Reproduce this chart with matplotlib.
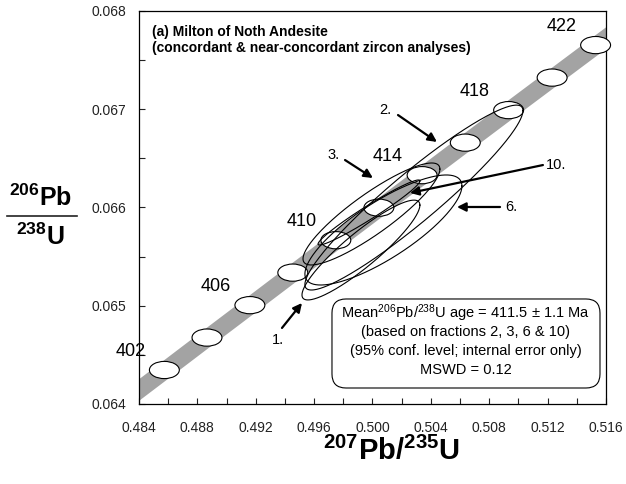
import numpy as np
import matplotlib.pyplot as plt
from matplotlib.patches import Ellipse, FancyBboxPatch
from matplotlib.lines import Line2D
from matplotlib.ticker import MultipleLocator, FormatStrFormatter

plt.rcParams['font.family'] = ['Liberation Sans', 'DejaVu Sans']
plt.rcParams['mathtext.fontset'] = 'custom'
plt.rcParams['mathtext.rm'] = 'Liberation Sans'
plt.rcParams['mathtext.it'] = 'Liberation Sans:italic'
plt.rcParams['mathtext.bf'] = 'Liberation Sans:bold'

# concordia points (Ma) with 207Pb/235U and 206Pb/238U
ages = [400, 402, 404, 406, 408, 410, 412, 414, 416, 418, 420, 422, 424]
conc_x = [0.48281, 0.48574, 0.48866, 0.49160, 0.49454, 0.49749, 0.50044,
          0.50340, 0.50636, 0.50933, 0.51231, 0.51529, 0.51828]
conc_y = [0.064016, 0.064346, 0.064676, 0.065006, 0.065337, 0.065667, 0.065998,
          0.066329, 0.066660, 0.066991, 0.067322, 0.067653, 0.067984]
band_half = 0.00011
label_ages = [402, 406, 410, 414, 418, 422]

# zircon fractions: centre, half-extent in x / y, error correlation
frac_names = ['1.', '2.', '3.', '6.', '10.']
frac_x = [0.49921, 0.50284, 0.49993, 0.50075, 0.49976]
frac_y = [0.065567, 0.066101, 0.065934, 0.065771, 0.065949]
frac_ex = [0.00404, 0.00747, 0.00469, 0.00538, 0.00349]
frac_ey = [0.000508, 0.000941, 0.000519, 0.000560, 0.000331]
frac_rho = [0.90, 0.94, 0.88, 0.80, 0.97]

# arrow labels: label position, arrow tail, arrow tip
lab_x = [0.49352, 0.50086, 0.49736, 0.50949, 0.51257]
lab_y = [0.064651, 0.066992, 0.066534, 0.066005, 0.066432]
tail_x = [0.49380, 0.50175, 0.49812, 0.50874, 0.51168]
tail_y = [0.064774, 0.066941, 0.066483, 0.066005, 0.066432]
tip_x = [0.49517, 0.50442, 0.50003, 0.50579, 0.50257]
tip_y = [0.065028, 0.066667, 0.066300, 0.066005, 0.066148]

box_lines = [r'Mean$^{206}$Pb/$^{238}$U age = 411.5 ± 1.1 Ma',
             '(based on fractions 2, 3, 6 & 10)',
             '(95% conf. level; internal error only)',
             'MSWD = 0.12']

fig = plt.figure(figsize=(6.26, 4.84), dpi=100)
ax = fig.add_axes([0.2220, 0.1653, 0.7460, 0.8120])

# concordia band
cx = np.array(conc_x)
cy = np.array(conc_y)
ax.fill_between(cx, cy - band_half, cy + band_half, color='#a3a3a3', lw=0, zorder=1)

# age markers
for a, x, y in zip(ages, conc_x, conc_y):
    if a < 402 or a > 422:
        continue
    ax.add_patch(Ellipse((x, y), 0.00205, 0.000175, fc='white', ec='black',
                         lw=0.8, zorder=3, clip_on=False))
    if a in label_ages:
        ax.annotate(str(a), (x, y), xytext=(-24.5, 13.5), textcoords='offset points',
                    ha='center', va='center', fontsize=13, zorder=5)

# error ellipses
t = np.linspace(0, 2 * np.pi, 300)
for x0, y0, ex, ey, r in zip(frac_x, frac_y, frac_ex, frac_ey, frac_rho):
    ex_ = x0 + ex * np.cos(t)
    ey_ = y0 + ey * (r * np.cos(t) + np.sqrt(1 - r ** 2) * np.sin(t))
    ax.plot(ex_, ey_, color='black', lw=0.8, zorder=4)

# arrows and fraction labels
for n, lx, ly, tx, ty, px, py in zip(frac_names, lab_x, lab_y, tail_x, tail_y, tip_x, tip_y):
    ax.text(lx, ly, n, ha='center', va='center', fontsize=10.5, zorder=6)
    ax.annotate('', xy=(px, py), xytext=(tx, ty),
                arrowprops=dict(arrowstyle='-|>', color='black', lw=1.6,
                                mutation_scale=13, shrinkA=0, shrinkB=0), zorder=6)

# title
ax.text(0.027, 0.965, '(a) Milton of Noth Andesite\n(concordant & near-concordant zircon analyses)',
        transform=ax.transAxes, ha='left', va='top', fontsize=10, fontweight='bold',
        linespacing=1.2)

# result box
ax.add_patch(FancyBboxPatch((0.4133, 0.0407), 0.5739, 0.2265, transform=ax.transAxes,
                            boxstyle='round,pad=0,rounding_size=0.03', mutation_aspect=467 / 393,
                            fc='white', ec='black', lw=0.8, zorder=7))
for i, s in enumerate(box_lines):
    ax.text(0.700, 0.2316 - i * 0.0483, s, transform=ax.transAxes, ha='center',
            va='center', fontsize=10.5, zorder=8)

ax.set_xlim(0.484, 0.516)
ax.set_ylim(0.064, 0.068)
ax.xaxis.set_major_locator(MultipleLocator(0.004))
ax.xaxis.set_minor_locator(MultipleLocator(0.002))
ax.yaxis.set_major_locator(MultipleLocator(0.001))
ax.yaxis.set_minor_locator(MultipleLocator(0.0005))
ax.xaxis.set_major_formatter(FormatStrFormatter('%.3f'))
ax.yaxis.set_major_formatter(FormatStrFormatter('%.3f'))
ax.tick_params(which='both', direction='in', length=4, width=0.8, labelsize=10,
               top=False, right=False, colors='#222222')
ax.tick_params(axis='x', pad=12)
ax.tick_params(axis='y', pad=9)
for sp in ax.spines.values():
    sp.set_linewidth(0.9)

# axis labels
fig.text(391 / 626, 1 - 451 / 484, r'$\mathbf{^{207}Pb/^{235}U}$', ha='center',
         va='center', fontsize=21)
fig.text(41 / 626, 1 - 198 / 484, r'$\mathbf{^{206}Pb}$', ha='center', va='center', fontsize=18)
fig.text(40 / 626, 1 - 237 / 484, r'$\mathbf{^{238}U}$', ha='center', va='center', fontsize=18)
fig.add_artist(Line2D([7 / 626, 77 / 626], [1 - 216 / 484, 1 - 216 / 484],
                      transform=fig.transFigure, color='#222222', lw=1.2))

fig.savefig('out.png', dpi=100)
